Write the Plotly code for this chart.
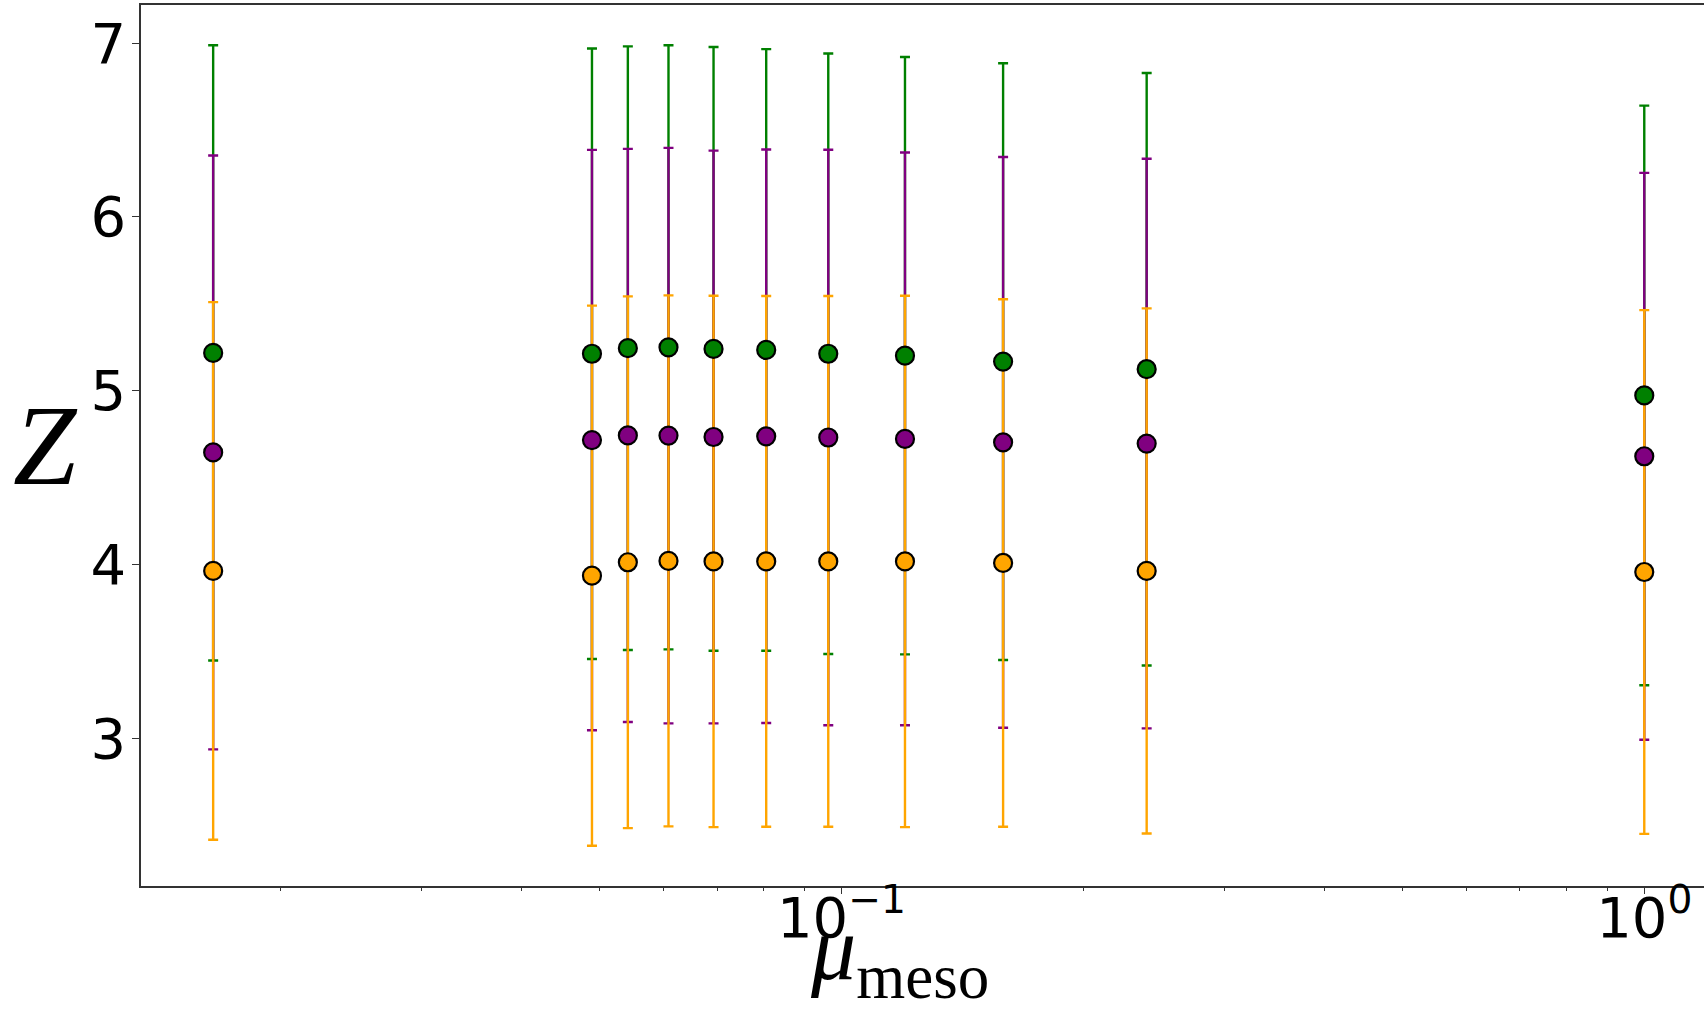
import plotly.graph_objects as go

# mesoscale parameter values (log axis)
mu_meso = [0.0165, 0.0489, 0.0542, 0.0609, 0.0693, 0.0806, 0.0963, 0.120, 0.159, 0.240, 1.0]

# Z and symmetric uncertainties for each series
z_green = [5.217, 5.212, 5.244, 5.249, 5.240, 5.234, 5.212, 5.201, 5.167, 5.123, 4.972]
err_green = [1.770, 1.757, 1.737, 1.738, 1.737, 1.731, 1.728, 1.719, 1.717, 1.705, 1.668]

z_purple = [4.644, 4.715, 4.742, 4.741, 4.733, 4.737, 4.730, 4.722, 4.702, 4.695, 4.622]
err_purple = [1.709, 1.670, 1.649, 1.656, 1.648, 1.650, 1.656, 1.648, 1.642, 1.639, 1.631]

z_orange = [3.962, 3.935, 4.012, 4.020, 4.017, 4.017, 4.017, 4.017, 4.008, 3.962, 3.956]
err_orange = [1.547, 1.554, 1.530, 1.528, 1.529, 1.527, 1.527, 1.529, 1.518, 1.511, 1.507]

x_tickvals = [0.1, 1.0]
x_ticktext = ["10<sup>\u22121</sup>", "10<sup>0</sup>"]
x_minor = [0.02, 0.03, 0.04, 0.05, 0.06, 0.07, 0.08, 0.09,
           0.2, 0.3, 0.4, 0.5, 0.6, 0.7, 0.8, 0.9]
y_tickvals = [3, 4, 5, 6, 7]

series = [
    ("green", z_green, err_green),
    ("purple", z_purple, err_purple),
    ("orange", z_orange, err_orange),
]

fig = go.Figure()

# error bars first, drawn in series order so later bars sit on top
for color, z, err in series:
    fig.add_trace(go.Scatter(
        x=mu_meso, y=z, mode="markers",
        marker=dict(size=1, color="rgba(0,0,0,0)"),
        error_y=dict(type="data", array=err, visible=True,
                     color=color, thickness=2.4, width=5),
        showlegend=False, hoverinfo="skip",
    ))

# markers on top of all error bars
for color, z, err in series:
    fig.add_trace(go.Scatter(
        x=mu_meso, y=z, mode="markers",
        marker=dict(size=18, color=color, line=dict(color="black", width=2.2)),
        showlegend=False,
    ))

fig.update_layout(
    width=1704, height=1014,
    margin=dict(l=141, r=0, t=5, b=128),
    plot_bgcolor="white", paper_bgcolor="white",
    font=dict(family="DejaVu Sans", color="black"),
    xaxis=dict(
        type="log", range=[-1.8724, 0.0744],
        tickvals=x_tickvals, ticktext=x_ticktext,
        ticks="outside", ticklen=6, tickwidth=1.2, tickcolor="#333",
        tickfont=dict(size=56, family="DejaVu Sans"),
        ticklabelstandoff=-24,
        minor=dict(tickvals=x_minor, ticks="outside", ticklen=3.5,
                   tickwidth=1, tickcolor="#333", showgrid=False),
        showgrid=False, zeroline=False,
        showline=True, linecolor="#333", linewidth=1.5, mirror=True,
    ),
    yaxis=dict(
        range=[2.149, 7.219],
        tickvals=y_tickvals,
        ticks="outside", ticklen=7, tickwidth=1.2, tickcolor="#333",
        tickfont=dict(size=56, family="DejaVu Sans"),
        ticklabelstandoff=-5,
        showgrid=False, zeroline=False,
        showline=True, linecolor="#333", linewidth=1.5, mirror=False,
    ),
    annotations=[
        dict(text="<i>Z</i>", xref="paper", yref="paper",
             x=-0.061, y=0.5, xanchor="center", yanchor="middle",
             showarrow=False,
             font=dict(family="Liberation Serif", size=114, color="black")),
        dict(text="<i>\u03bc</i><sub>meso</sub>", xref="paper", yref="paper",
             x=0.485, y=-0.1452, xanchor="center", yanchor="bottom",
             showarrow=False,
             font=dict(family="Liberation Serif", size=90, color="black")),
    ],
)

fig.write_html("out.html")
